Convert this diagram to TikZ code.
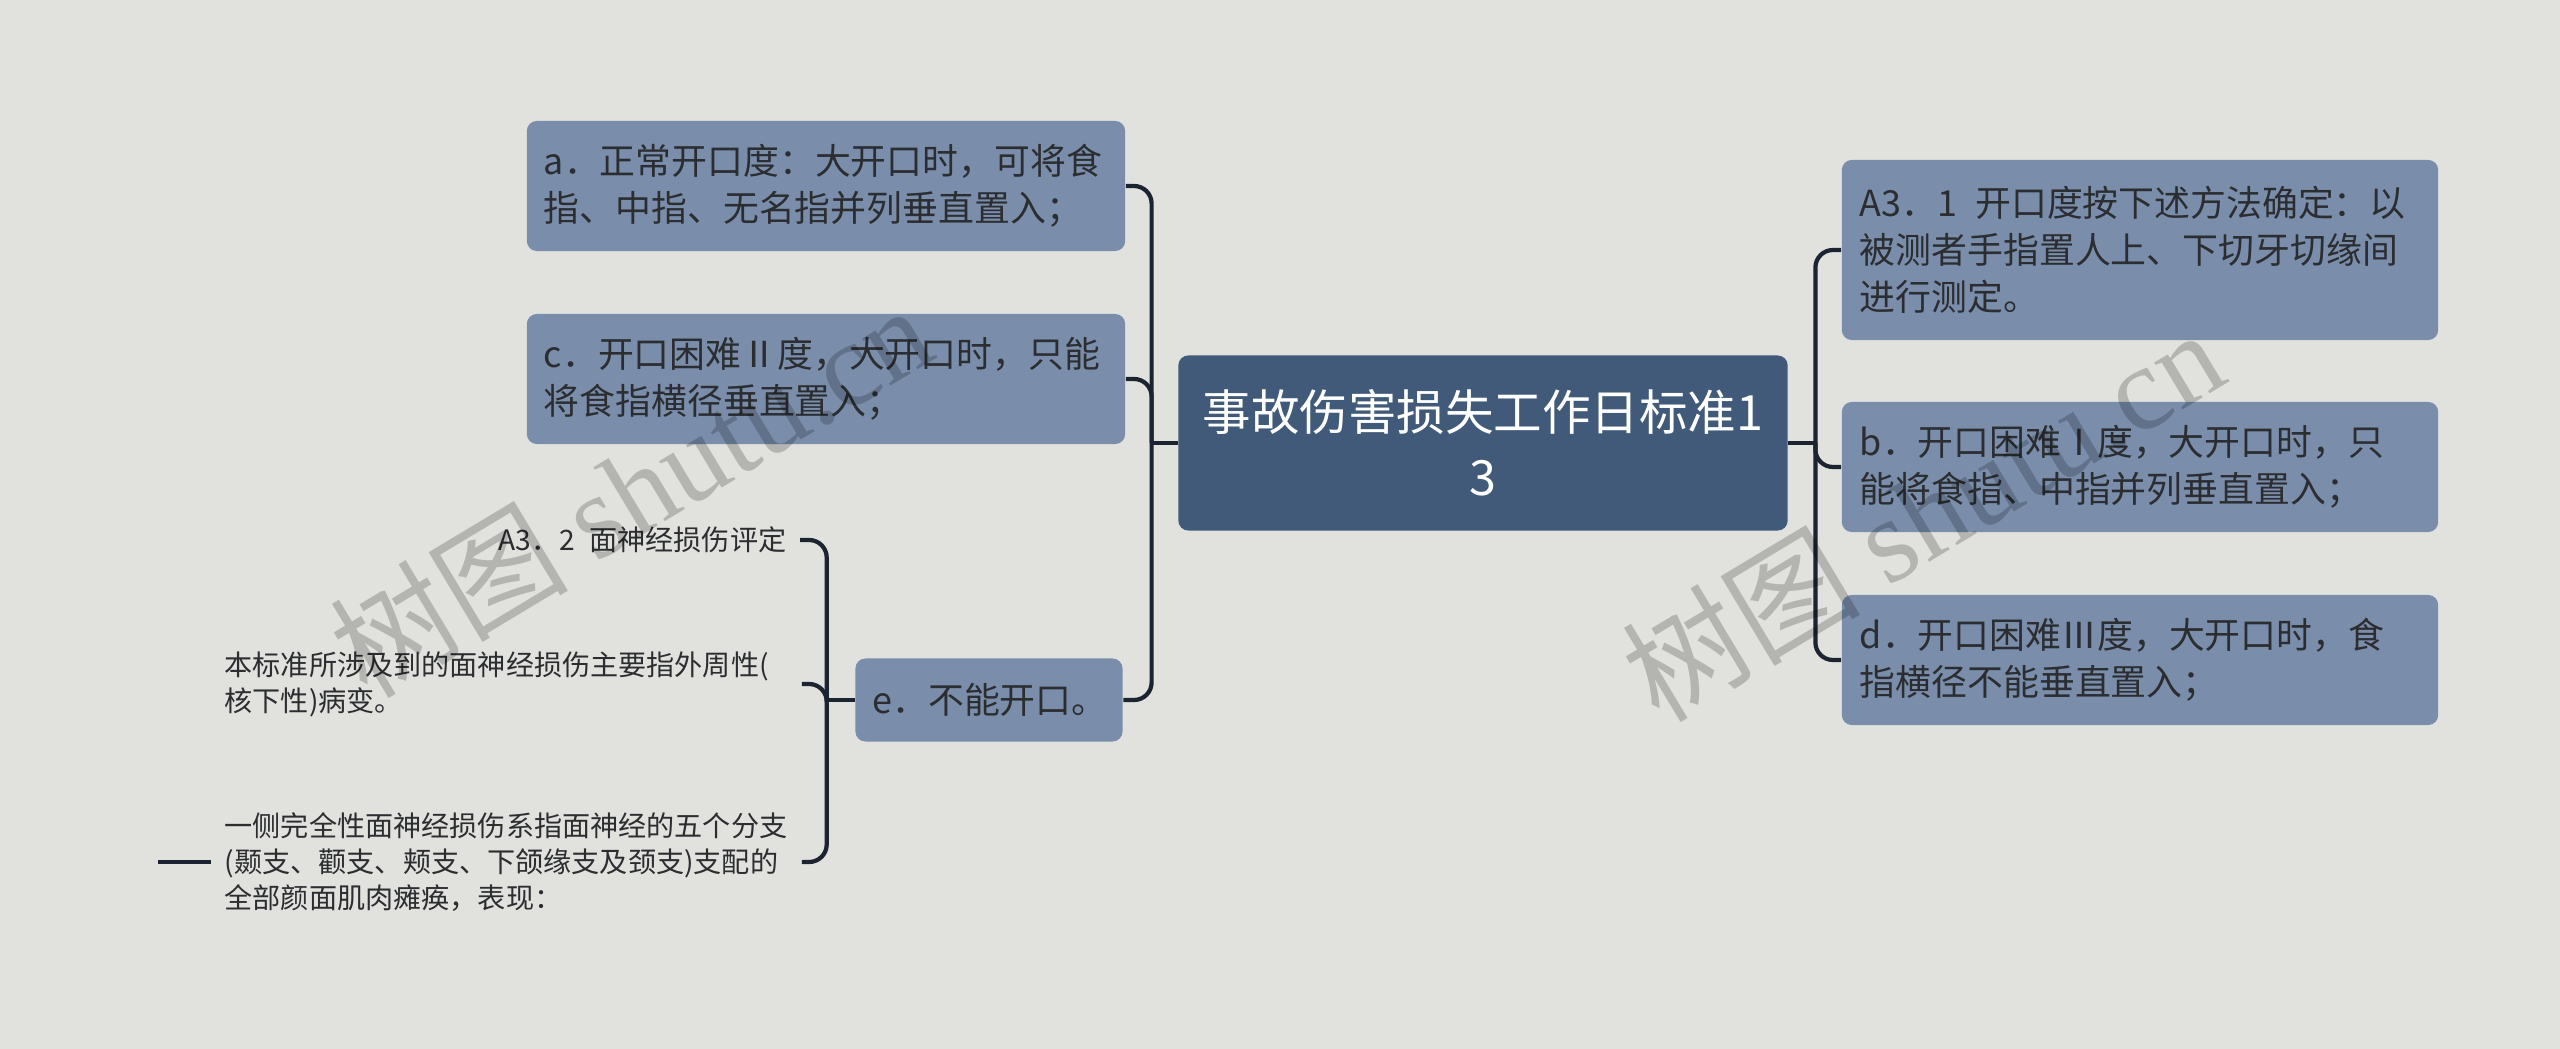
\documentclass[tikz,border=0pt]{standalone}
\usepackage{fontspec}
\setmainfont{Noto Sans CJK SC}
\newfontfamily\wmfont{Liberation Serif}
\definecolor{bgcol}{HTML}{E1E2DE}
\definecolor{rootcol}{HTML}{415A79}
\definecolor{subcol}{HTML}{7A8EAC}
\definecolor{linkcol}{HTML}{1C2331}
\definecolor{txtcol}{HTML}{2B2D30}

\begin{document}
\begin{tikzpicture}[x=0.01cm, y=-0.01cm,
  rootbox/.style={fill=rootcol, text=white, rounded corners=0.1cm, align=center,
    minimum width=6.09cm, minimum height=1.75cm,
    font=\fontsize{13.8pt}{18.5pt}\selectfont},
  subbox/.style={fill=subcol, text=txtcol, rounded corners=0.1cm, align=left,
    inner xsep=0.17cm, minimum height=1.30cm,
    font=\fontsize{10.2pt}{13.4pt}\selectfont},
  leaf/.style={text=txtcol, align=left, inner xsep=0.13cm, inner ysep=0.05cm,
    font=\fontsize{8pt}{10.2pt}\selectfont},
  link/.style={draw=linkcol, line width=1.2pt, rounded corners=5pt},
  wmark/.style={text=black, opacity=0.2, font=\fontsize{34pt}{34pt}\selectfont, rotate=31}]

\useasboundingbox[fill=bgcol] (0,0) rectangle (2560,1049);

% centre
\node[rootbox] at (1483,443) (root) {事故伤害损失工作日标准1\\3};

% left side
\node[subbox, text width=5.64cm] at (826,186) (ka) {a．正常开口度：大开口时，可将食\\指、中指、无名指并列垂直置入；};
\node[subbox, text width=5.64cm] at (826,379) (kc) {c．开口困难Ⅱ度，大开口时，只能\\将食指横径垂直置入；};
\node[subbox, text width=2.33cm, minimum height=0.83cm] at (989,700) (ke) {e．不能开口。};

% right side
\node[subbox, text width=5.60cm, inner xsep=0.18cm, minimum height=1.80cm] at (2140,250) (kf) {A3．1\hspace{0.5em}开口度按下述方法确定：以\\被测者手指置人上、下切牙切缘间\\进行测定。};
\node[subbox, text width=5.60cm, inner xsep=0.18cm] at (2140,467) (kb) {b．开口困难Ⅰ度，大开口时，只\\能将食指、中指并列垂直置入；};
\node[subbox, text width=5.60cm, inner xsep=0.18cm] at (2140,660) (kd) {d．开口困难Ⅲ度，大开口时，食\\指横径不能垂直置入；};

% leaves of e
\node[leaf, anchor=east] at (800,540) (fa) {A3．2\hspace{0.5em}面神经损伤评定};
\node[leaf, anchor=west, text width=5.63cm] at (211,684) (fb) {本标准所涉及到的面神经损伤主要指外周性(\\核下性)病变。};
\node[leaf, anchor=west, text width=5.63cm] at (211,862) (fc) {一侧完全性面神经损伤系指面神经的五个分支\\(颞支、颧支、颊支、下颌缘支及颈支)支配的\\全部颜面肌肉瘫痪，表现：};

% connectors
\path (root.west) ++(-26,0) coordinate (lj);
\path (root.east) ++(27,0) coordinate (rj);
\path (ke.west) ++(-28,0) coordinate (ej);
\path (fc.west) ++(-53,0) coordinate (fcend);

\draw[link] (root.west) -- (lj);
\draw[link] (lj) |- (ka.east);
\draw[link] (lj) |- (kc.east);
\draw[link] (lj) |- (ke.east);

\draw[link] (root.east) -- (rj);
\draw[link] (rj) |- (kf.west);
\draw[link] (rj) |- (kb.west);
\draw[link] (rj) |- (kd.west);

\draw[link] (ke.west) -- (ej);
\draw[link] (ej) |- (fa.east);
\draw[link] (ej) |- (fb.east);
\draw[link] (ej) |- (fc.east);
\draw[link] (fc.west) -- (fcend);

% watermark
\node[wmark] at (630,490) (wma) {树图 {\wmfont shutu.cn}};
\node[wmark] at (1922,514) (wmb) {树图 {\wmfont shutu.cn}};

\end{tikzpicture}
\end{document}
